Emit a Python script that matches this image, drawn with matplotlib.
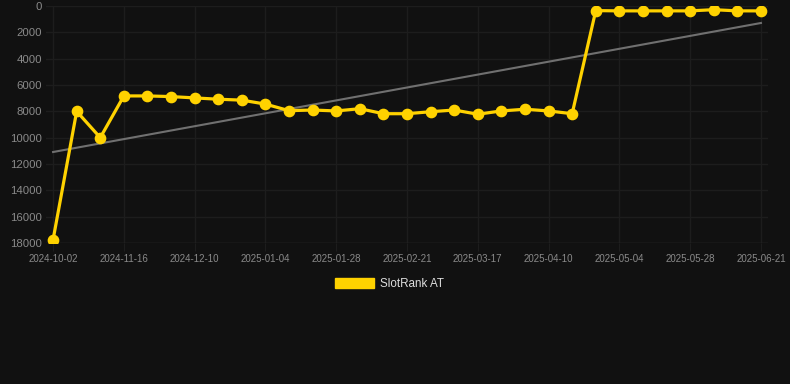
import numpy as np
import matplotlib
matplotlib.use("Agg")
import matplotlib.pyplot as plt
from matplotlib.patches import Patch

dates = ["2024-10-02", "2024-10-17", "2024-11-01", "2024-11-16", "2024-11-24",
         "2024-12-02", "2024-12-10", "2024-12-18", "2024-12-26", "2025-01-04",
         "2025-01-12", "2025-01-20", "2025-01-28", "2025-02-05", "2025-02-13",
         "2025-02-21", "2025-03-01", "2025-03-09", "2025-03-17", "2025-03-25",
         "2025-04-02", "2025-04-10", "2025-04-18", "2025-04-26", "2025-05-04",
         "2025-05-12", "2025-05-20", "2025-05-28", "2025-06-05", "2025-06-13",
         "2025-06-21"]
ranks = [17750, 8000, 10000, 6830, 6830, 6880, 6980, 7080, 7150, 7450,
         7950, 7900, 7970, 7800, 8180, 8180, 8030, 7900, 8220, 7970,
         7840, 7970, 8180, 350, 370, 370, 370, 370, 280, 370, 370]
series_name = "SlotRank AT"
yticks = [0, 2000, 4000, 6000, 8000, 10000, 12000, 14000, 16000, 18000]

bg = "#111111"
gold = "#FFD200"
fig = plt.figure(figsize=(7.9, 3.84), dpi=100, facecolor=bg)
ax = fig.add_axes([46/790, 1-243/384, (768-46)/790, (243-6)/384], facecolor=bg)

x = np.arange(len(ranks))
coef = np.polyfit(x, ranks, 1)
ax.plot(x, np.polyval(coef, x), color="#707070", lw=1.5, zorder=2)
ax.plot(x, ranks, color=gold, lw=2.3, marker="o", markersize=7.4, zorder=3)

ax.set_ylim(18000, 0)
ax.set_xlim(-0.3, len(ranks) - 1 + 0.3)
ax.set_yticks(yticks)
ax.set_yticklabels([str(v) for v in yticks])
tick_idx = list(range(0, len(dates), 3))
ax.set_xticks(tick_idx)
ax.set_xticklabels([dates[i] for i in tick_idx])

ax.grid(True, color="#1d1d1d", lw=1)
ax.set_axisbelow(True)
for s in ax.spines.values():
    s.set_visible(False)
ax.axhline(18000, color="#2a2a2a", lw=1, zorder=1)
ax.tick_params(axis="y", length=0, pad=3, labelsize=8.2, labelcolor="#8a8a8a")
ax.tick_params(axis="x", length=6, color="#1d1d1d", pad=2, labelsize=7, labelcolor="#8a8a8a")
for lab in ax.get_xticklabels() + ax.get_yticklabels():
    lab.set_fontfamily("Liberation Sans")

leg = fig.legend(handles=[Patch(facecolor=gold, edgecolor=gold, label=series_name)],
                 loc="center", bbox_to_anchor=(389.5/790, 1-284/384), frameon=False,
                 handlelength=3.4, handleheight=0.95, handletextpad=0.5,
                 prop={"family": "Liberation Sans", "size": 8.4})
for t in leg.get_texts():
    t.set_color("#dddddd")

fig.savefig("out.png", dpi=100, facecolor=bg)
